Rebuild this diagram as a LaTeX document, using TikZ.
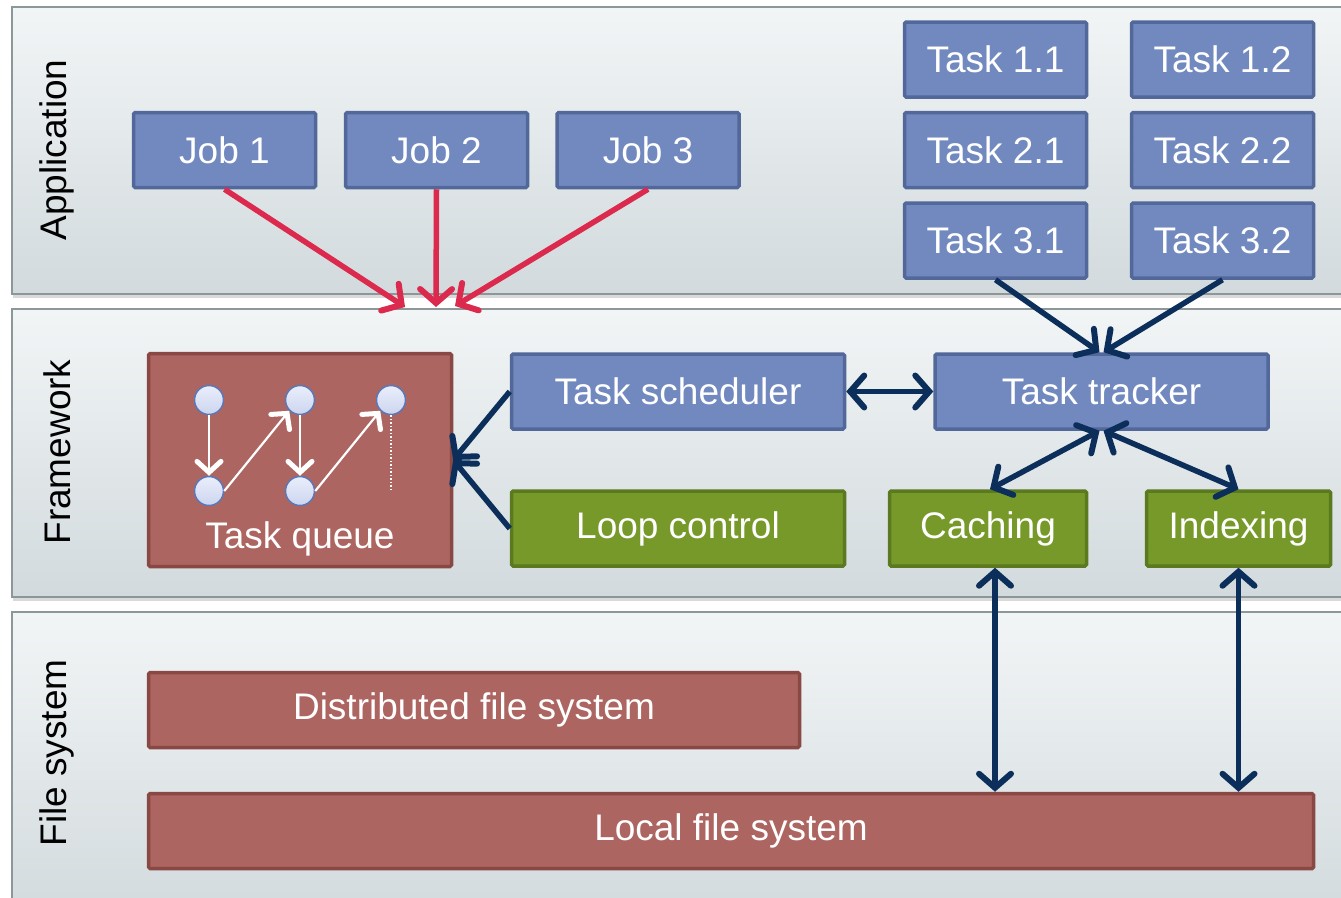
\documentclass[tikz,border=0pt]{standalone}
\usepackage{fontspec}
\setmainfont{Liberation Sans}
\usetikzlibrary{arrows.meta,shadows}

\definecolor{layertop}{HTML}{F2F5F6}
\definecolor{layerbot}{HTML}{D2DADD}
\definecolor{layerline}{HTML}{8C9799}
\definecolor{bluefill}{HTML}{7289C0}
\definecolor{blueline}{HTML}{53689A}
\definecolor{redfill}{HTML}{AC6560}
\definecolor{redline}{HTML}{8A4845}
\definecolor{greenfill}{HTML}{76992A}
\definecolor{greenline}{HTML}{5B7A1F}
\definecolor{navy}{HTML}{0B2F5A}
\definecolor{jobred}{HTML}{DB2A4D}
\definecolor{ballfill}{HTML}{DCE3F8}
\definecolor{ballline}{HTML}{5B77B8}

\begin{document}
\begin{tikzpicture}[x=1pt,y=-1pt,
  layer/.style={draw=layerline, line width=1.5pt, top color=layertop, bottom color=layerbot,
    drop shadow={shadow xshift=1pt, shadow yshift=-4pt, opacity=0.3}},
  layerlabel/.style={rotate=90, font=\fontsize{37}{40}\selectfont, text=black},
  boxbase/.style={rectangle, line width=3.5pt, rounded corners=1.5pt, inner sep=0pt,
    text=white, font=\fontsize{37}{40}\selectfont},
  bluebox/.style={boxbase, draw=blueline, fill=bluefill},
  redbox/.style={boxbase, draw=redline, fill=redfill},
  greenbox/.style={boxbase, draw=greenline, fill=greenfill},
  ball/.style={circle, minimum size=29pt, inner sep=0pt, draw=ballline, line width=1.5pt,
    top color=ballfill!60!white, bottom color=ballfill!85!bluefill},
  tipbig/.tip={Straight Barb[length=14pt,width=32pt,line width=6pt,line cap=round]},
  jobarrow/.style={draw=jobred, line width=5.5pt, -tipbig},
  navyarrow/.style={draw=navy, line width=5.5pt, -tipbig},
  navyboth/.style={draw=navy, line width=5.5pt, tipbig-tipbig},
  queuearrow/.style={draw=white, line width=2.2pt, -{Straight Barb[length=11pt,width=24pt,line width=5pt,line cap=round]}},
]
\useasboundingbox (0,0) rectangle (1341,897);

% layers
\path[layer] (12,7) rectangle (1360,294);
\path[layer] (12,309) rectangle (1360,597);
\path[layer] (12,612) rectangle (1360,920);

\node[layerlabel] (lapp) at (57,150) {Application};
\node[layerlabel] (lfw) at (57,452) {Framework};
\node[layerlabel] (lfsys) at (57,753) {File system};

% application layer
\node[bluebox, minimum width=182pt, minimum height=75pt] (job1) at (224.5,150) {Job 1};
\node[bluebox, minimum width=182pt, minimum height=75pt] (job2) at (436.5,150) {Job 2};
\node[bluebox, minimum width=182pt, minimum height=75pt] (job3) at (648,150) {Job 3};

\node[bluebox, minimum width=182pt, minimum height=75pt] (t11) at (995.5,59.5) {Task 1.1};
\node[bluebox, minimum width=182pt, minimum height=75pt] (t12) at (1222.5,59.5) {Task 1.2};
\node[bluebox, minimum width=182pt, minimum height=75pt] (t21) at (995.5,150) {Task 2.1};
\node[bluebox, minimum width=182pt, minimum height=75pt] (t22) at (1222.5,150) {Task 2.2};
\node[bluebox, minimum width=182pt, minimum height=75pt] (t31) at (995.5,240.5) {Task 3.1};
\node[bluebox, minimum width=182pt, minimum height=75pt] (t32) at (1222.5,240.5) {Task 3.2};

% framework layer
\node[redbox, minimum width=303pt, minimum height=213pt] (queue) at (300,460) {};
\node[text=white, font=\fontsize{37}{40}\selectfont] (queuelabel) at (300,539) {Task queue};
\node[ball] (q1) at (209,400) {};
\node[ball] (q2) at (300,400) {};
\node[ball] (q3) at (391,400) {};
\node[ball] (q4) at (209,491) {};
\node[ball] (q5) at (300,491) {};
\coordinate (qend) at (391,490);
\draw[queuearrow] (q1) -- (q4);
\draw[queuearrow] (q4.east) -- (q2.south west);
\draw[queuearrow] (q2) -- (q5);
\draw[queuearrow] (q5.east) -- (q3.south west);
\draw[white, line width=1.5pt, dotted] (q3.south) -- (qend);

\node[bluebox, minimum width=333pt, minimum height=75pt] (sched) at (678,391.5) {Task scheduler};
\node[bluebox, minimum width=333pt, minimum height=75pt] (tracker) at (1101.5,391.5) {Task tracker};
\node[greenbox, minimum width=333pt, minimum height=75pt] (loop) at (678,528.5) {Loop control};
\node[greenbox, minimum width=197pt, minimum height=75pt] (caching) at (988,528.5) {Caching};
\node[greenbox, minimum width=184pt, minimum height=75pt] (indexing) at (1238.5,528.5) {Indexing};

% file system layer
\node[redbox, minimum width=651pt, minimum height=75pt] (dfs) at (474,710) {Distributed file system};
\node[redbox, minimum width=1165pt, minimum height=75pt] (lfs) at (731,831) {Local file system};

% jobs into the framework
\coordinate (in1) at (405,307);
\coordinate (in2) at (436,307);
\coordinate (in3) at (455,306);
\draw[jobarrow] (job1.south) -- (in1);
\draw[jobarrow] (job2.south) -- (in2);
\draw[jobarrow] (job3.south) -- (in3);

% task tracker connections
\draw[navyarrow] (t31.south) -- ([xshift=-2pt]tracker.north);
\draw[navyarrow] (t32.south) -- ([xshift=2pt]tracker.north);
\draw[navyboth] (sched.east) -- (tracker.west);
\draw[navyboth] ([xshift=-2pt]tracker.south) -- ([xshift=2pt]caching.north);
\draw[navyboth] ([xshift=2pt]tracker.south) -- (indexing.north);
\draw[navyboth] ([xshift=7pt]caching.south) -- ([xshift=7pt]caching.south |- lfs.north);
\draw[navyboth] (indexing.south) -- (indexing.south |- lfs.north);

% scheduler and loop control feed the queue
\draw[navyarrow] (sched.west) -- (queue.east);
\draw[navyarrow] (loop.west) -- (queue.east);
\end{tikzpicture}
\end{document}
